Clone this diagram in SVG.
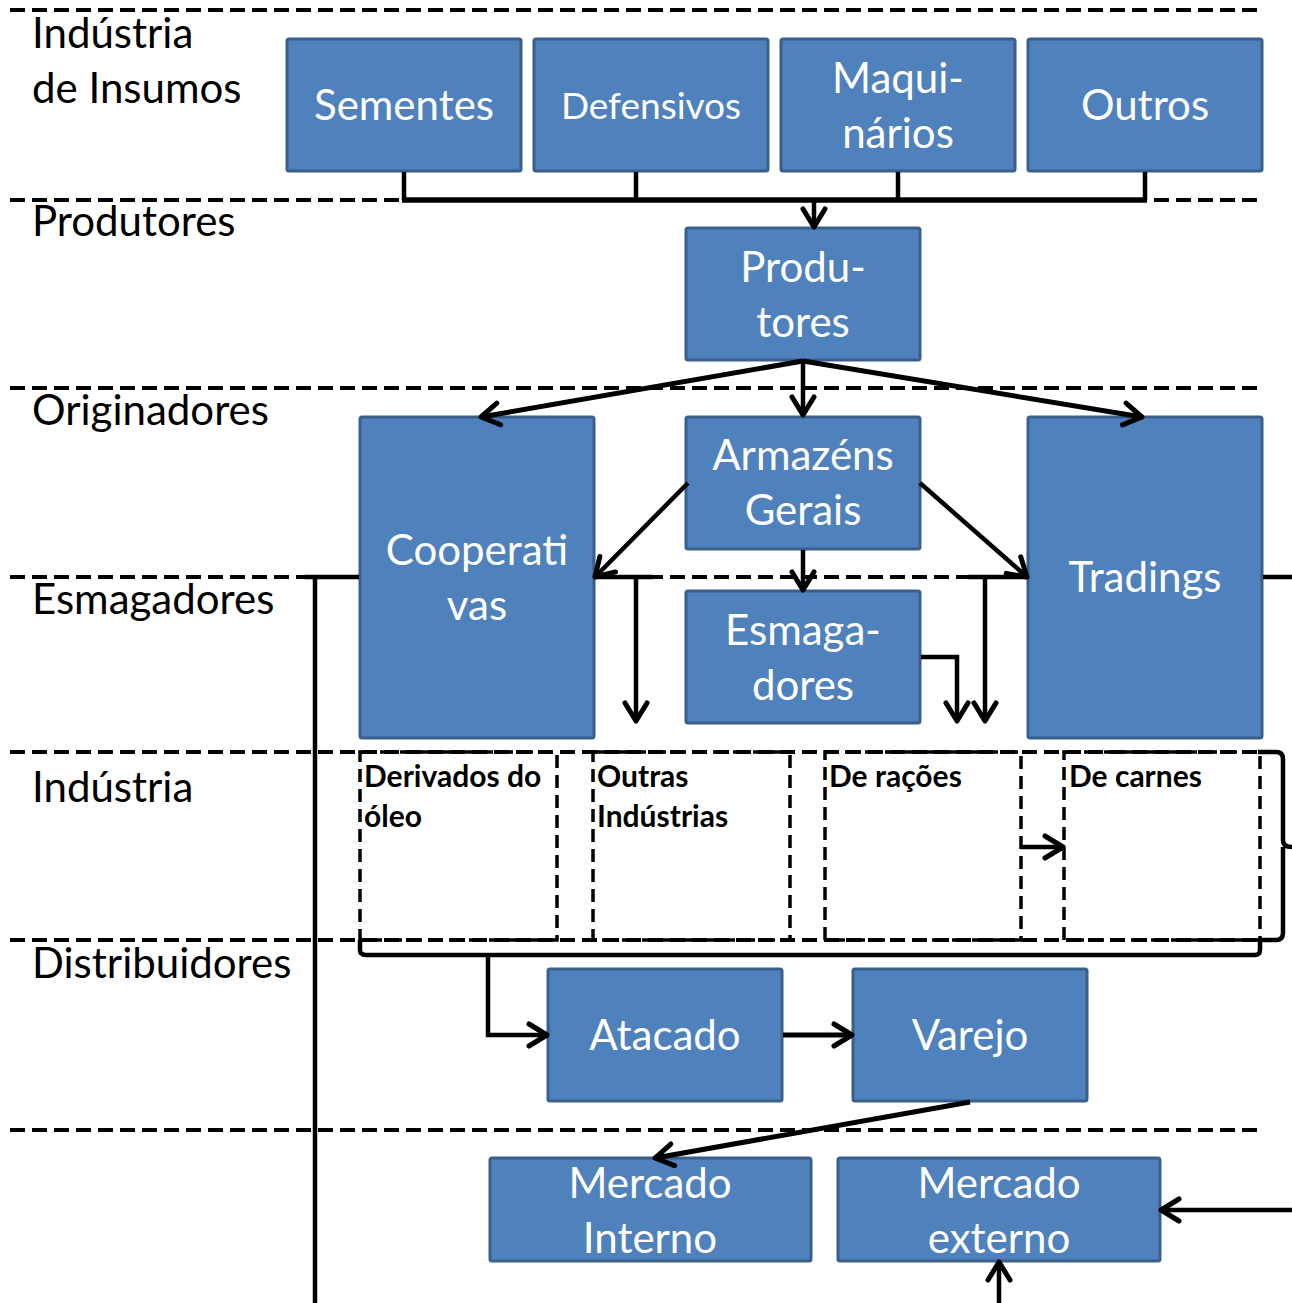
<svg xmlns="http://www.w3.org/2000/svg" width="1292" height="1303" viewBox="0 0 1292 1303">
<style>
.bg{fill:#fff}
.box{fill:#4F81BD;stroke:#3A5F8B;stroke-width:3}
.t{font-family:Lato,"Open Sans",sans-serif;fill:#fff;font-size:42px;text-anchor:middle}
.lab{font-family:Lato,"Open Sans",sans-serif;fill:#000;font-size:42px}
.ind{font-family:Lato,"Open Sans",sans-serif;fill:#000;font-size:30px;font-weight:bold}
.dash{stroke:#000;stroke-width:4;stroke-dasharray:15 7;fill:none}
.dbox{stroke:#000;stroke-width:3.5;stroke-dasharray:13 7;fill:none}
.c{stroke:#000;stroke-width:4.5;fill:none}
.ca{stroke:#000;stroke-width:4.5;fill:none;marker-end:url(#a)}
</style>
<defs>
<marker id="a" viewBox="0 0 32 32" refX="27" refY="16" markerWidth="32" markerHeight="32" orient="auto" markerUnits="userSpaceOnUse">
<path d="M9,5 L27,16 L9,27" fill="none" stroke="#000" stroke-width="5" stroke-linecap="round" stroke-linejoin="round"/>
</marker>
</defs>
<rect class="bg" x="0" y="0" width="1292" height="1303"/>
<g id="lanes">
<line class="dash" x1="10" y1="10" x2="1262" y2="10"/>
<line class="dash" x1="10" y1="200" x2="1262" y2="200"/>
<line class="dash" x1="10" y1="388" x2="1262" y2="388"/>
<line class="dash" x1="10" y1="577" x2="1262" y2="577"/>
<line class="dash" x1="10" y1="752" x2="1262" y2="752"/>
<line class="dash" x1="10" y1="940" x2="1262" y2="940"/>
<line class="dash" x1="10" y1="1130" x2="1262" y2="1130"/>
</g>
<g id="lane-labels">
<text class="lab" x="32" y="48">Indústria</text>
<text class="lab" x="32" y="103">de Insumos</text>
<text class="lab" x="32" y="236">Produtores</text>
<text class="lab" x="32" y="425">Originadores</text>
<text class="lab" x="32" y="614">Esmagadores</text>
<text class="lab" x="32" y="802">Indústria</text>
<text class="lab" x="32" y="978">Distribuidores</text>
</g>
<g id="sementes"><rect class="box" x="287" y="39" width="234" height="132" rx="2"/><text class="t" x="404" y="120">Sementes</text></g>
<g id="defensivos"><rect class="box" x="534" y="39" width="234" height="132" rx="2"/><text class="t" x="651" y="119" style="font-size:37px">Defensivos</text></g>
<g id="maquinarios"><rect class="box" x="781" y="39" width="234" height="132" rx="2"/><text class="t" x="898" y="93">Maqui-</text><text class="t" x="898" y="148">nários</text></g>
<g id="outros"><rect class="box" x="1028" y="39" width="234" height="132" rx="2"/><text class="t" x="1145" y="120">Outros</text></g>
<g id="produtores"><rect class="box" x="686" y="228" width="234" height="132" rx="2"/><text class="t" x="803" y="282">Produ-</text><text class="t" x="803" y="337">tores</text></g>
<g id="cooperativas"><rect class="box" x="360" y="417" width="234" height="321" rx="2"/><text class="t" x="477" y="565">Cooperati</text><text class="t" x="477" y="620">vas</text></g>
<g id="armazens"><rect class="box" x="686" y="417" width="234" height="132" rx="2"/><text class="t" x="803" y="470">Armazéns</text><text class="t" x="803" y="525">Gerais</text></g>
<g id="tradings"><rect class="box" x="1028" y="417" width="234" height="321" rx="2"/><text class="t" x="1145" y="592">Tradings</text></g>
<g id="esmagadores"><rect class="box" x="686" y="591" width="234" height="132" rx="2"/><text class="t" x="803" y="645">Esmaga-</text><text class="t" x="803" y="700">dores</text></g>
<g id="derivados"><rect class="dbox" x="360" y="752" width="197" height="188"/><text class="ind" x="364" y="787">Derivados do</text><text class="ind" x="364" y="827">óleo</text></g>
<g id="outras"><rect class="dbox" x="593" y="752" width="197" height="188"/><text class="ind" x="597" y="787">Outras</text><text class="ind" x="597" y="827">Indústrias</text></g>
<g id="racoes"><rect class="dbox" x="825" y="752" width="196" height="188"/><text class="ind" x="829" y="787">De rações</text></g>
<g id="carnes"><rect class="dbox" x="1064" y="752" width="196" height="188"/><text class="ind" x="1069" y="787">De carnes</text></g>
<g id="atacado"><rect class="box" x="548" y="969" width="234" height="132" rx="2"/><text class="t" x="665" y="1050">Atacado</text></g>
<g id="varejo"><rect class="box" x="853" y="969" width="234" height="132" rx="2"/><text class="t" x="970" y="1050">Varejo</text></g>
<g id="mercado-interno"><rect class="box" x="490" y="1158" width="321" height="103" rx="2"/><text class="t" x="650" y="1198">Mercado</text><text class="t" x="650" y="1253">Interno</text></g>
<g id="mercado-externo"><rect class="box" x="838" y="1158" width="322" height="103" rx="2"/><text class="t" x="999" y="1198">Mercado</text><text class="t" x="999" y="1253">externo</text></g>
<g id="connectors">
<line class="c" x1="404" y1="172" x2="404" y2="200"/>
<line class="c" x1="636" y1="172" x2="636" y2="200"/>
<line class="c" x1="898" y1="172" x2="898" y2="200"/>
<line class="c" x1="1145" y1="172" x2="1145" y2="200"/>
<line class="c" x1="402" y1="200" x2="1147" y2="200" style="stroke-width:5.5"/>
<line class="ca" x1="814" y1="200" x2="814" y2="227"/>
<line class="ca" x1="803" y1="361" x2="481" y2="417" style="stroke-width:5"/>
<line class="ca" x1="803" y1="361" x2="803" y2="415"/>
<line class="ca" x1="803" y1="361" x2="1142" y2="417" style="stroke-width:5"/>
<line class="ca" x1="688" y1="483" x2="595" y2="577"/>
<line class="ca" x1="920" y1="483" x2="1027" y2="577"/>
<line class="ca" x1="803" y1="550" x2="803" y2="590"/>
<polyline class="c" points="305,577 359,577"/>
<line class="c" x1="315" y1="577" x2="315" y2="1303"/>
<polyline class="c" points="595,577 653,577"/>
<line class="ca" x1="636" y1="577" x2="636" y2="721"/>
<polyline class="c" points="968,577 1027,577"/>
<line class="ca" x1="985" y1="577" x2="985" y2="721"/>
<polyline class="ca" points="921,657 957,657 957,721"/>
<line class="c" x1="1263" y1="577" x2="1292" y2="577"/>
<line class="ca" x1="1021" y1="847" x2="1063" y2="847"/>
<path class="c" d="M1258,752 H1276 Q1283,752 1283,759 V840 Q1283,847 1292,847 M1283,847 Q1283,847 1283,854 V933 Q1283,940 1276,940 H1258"/>
<path class="c" d="M360,940 V950 Q360,955 366,955 H1255 Q1260,955 1260,950 V940"/>
<polyline class="ca" points="488,955 488,1035 547,1035"/>
<line class="ca" x1="783" y1="1035" x2="852" y2="1035" style="stroke-width:5"/>
<line class="ca" x1="970" y1="1102" x2="655" y2="1158" style="stroke-width:5"/>
<line class="ca" x1="1292" y1="1210" x2="1161" y2="1210"/>
<line class="ca" x1="999" y1="1303" x2="999" y2="1262"/>
</g>
</svg>
